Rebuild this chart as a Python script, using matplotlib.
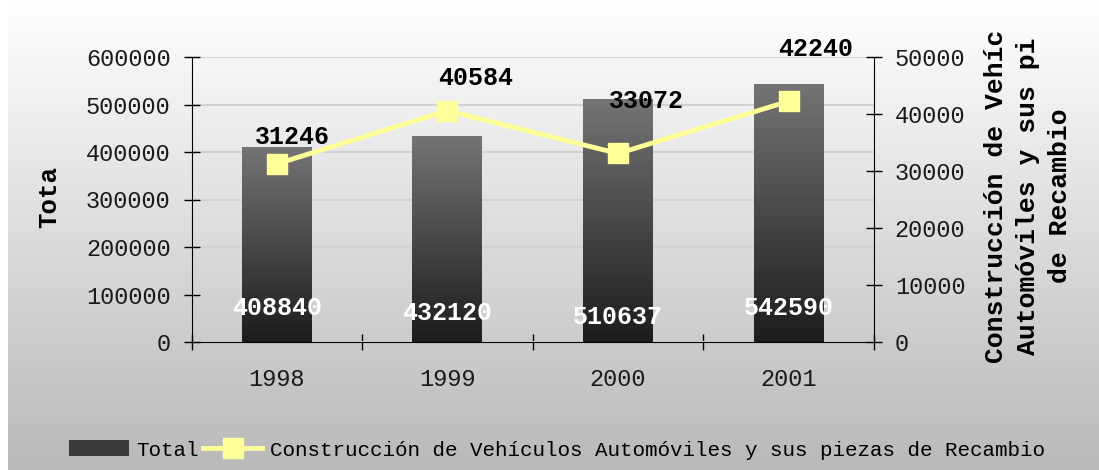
import numpy as np
import matplotlib
matplotlib.use("Agg")
import matplotlib.pyplot as plt
from matplotlib.colors import LinearSegmentedColormap
from matplotlib.patches import Patch
from matplotlib.lines import Line2D

# datos
years = ["1998", "1999", "2000", "2001"]
total = [408840, 432120, 510637, 542590]
construccion = [31246, 40584, 33072, 42240]
label_total = "Total"
label_constr = "Construcción de Vehículos Automóviles y sus piezas de Recambio"

plt.rcParams['font.family'] = ['Liberation Mono', 'DejaVu Sans Mono']

W, H = 1099, 470
fig = plt.figure(figsize=(W / 100, H / 100), dpi=100)

# fondo con degradado (blanco arriba, gris abajo)
bg = fig.add_axes([8 / W, 0, 1 - 8 / W, 1], zorder=-5)
bg_cmap = LinearSegmentedColormap.from_list("bg", ["#ffffff", "#b9b9b9"])
bg.imshow(np.linspace(0, 1, 256).reshape(-1, 1), aspect='auto', cmap=bg_cmap,
          extent=[0, 1, 0, 1])
bg.axis('off')

ax = fig.add_axes([191.5 / W, (H - 342) / H, (874 - 191.5) / W, (342 - 57) / H])
ax.patch.set_alpha(0)

x = np.arange(len(years))
bars = ax.bar(x, total, width=0.41, color='none', edgecolor='none', zorder=2)
bar_cmap = LinearSegmentedColormap.from_list("bar", ["#1c1c1c", "#747474"])
grad = np.linspace(0, 1, 256).reshape(-1, 1)
for b in bars:
    ax.imshow(grad, extent=[b.get_x(), b.get_x() + b.get_width(), 0, b.get_height()],
              origin='lower', aspect='auto', cmap=bar_cmap, zorder=2)

ax.set_xlim(-0.5, len(years) - 0.5)
ax.set_ylim(0, 600000)
ax.set_yticks(np.arange(0, 600001, 100000))
ax.yaxis.grid(True, color='#d2d2d2', lw=1.5)
ax.set_axisbelow(True)

ax.set_xticks(x)
ax.set_xticklabels(years)
ax.set_xticks(np.arange(-0.5, len(years), 1.0), minor=True)
ax.tick_params(axis='x', which='major', length=0, pad=19, labelsize=17, labelcolor='#1a1a1a')
ax.tick_params(axis='x', which='minor', direction='inout', length=12, width=1)
ax.tick_params(axis='y', direction='inout', length=12, width=1, pad=9, labelsize=17,
               labelcolor='#1a1a1a')
for s in ['top', 'right']:
    ax.spines[s].set_visible(False)

# etiquetas blancas de las barras
bar_offsets = [34, 29, 25, 34]
for b, v, off in zip(bars, total, bar_offsets):
    ax.annotate(str(v), (b.get_x() + b.get_width() / 2, 0), xytext=(0, off),
                textcoords='offset pixels', ha='center', va='center',
                color='white', fontsize=18, fontweight='bold', zorder=4)

ax2 = ax.twinx()
ax2.plot(x, construccion, color='#ffff99', lw=3.5, marker='s', ms=14,
         mec='#ffff99', zorder=3)
ax2.set_ylim(0, 50000)
ax2.set_yticks(np.arange(0, 50001, 10000))
ax2.tick_params(axis='y', direction='inout', length=12, width=1, pad=9, labelsize=17,
                labelcolor='#1a1a1a')
ax2.spines['top'].set_visible(False)
ax2.spines['left'].set_visible(False)
ax2.spines['bottom'].set_visible(False)

line_offsets = [(16, 27), (28, 33), (28, 52), (27, 52)]
for xi, v, (dx, dy) in zip(x, construccion, line_offsets):
    ax2.annotate(str(v), (xi, v), xytext=(dx, dy), textcoords='offset pixels',
                 ha='center', va='center', color='black', fontsize=18,
                 fontweight='bold')

# titulos de ejes
fig.text(49 / W, 1 - 197 / H, "Tota", rotation=90, ha='center', va='center',
         fontsize=18.5, fontweight='bold')
fig.text(1028 / W, 1 - 196 / H,
         "Construcción de Vehíc\nAutomóviles y sus pi\nde Recambio",
         rotation=90, ha='center', va='center', multialignment='center',
         fontsize=19, fontweight='bold', linespacing=1.42)

handles = [Patch(facecolor='#3a3a3a', edgecolor='none'),
           Line2D([], [], color='#ffff99', lw=3.5, marker='s', ms=14, mec='#ffff99')]
fig.legend(handles, [label_total, label_constr], loc='center',
           bbox_to_anchor=(557 / W, 1 - 450 / H), ncol=2, frameon=False,
           fontsize=15, handlelength=2.85, handleheight=0.8,
           handletextpad=0.35, columnspacing=0.2)

fig.savefig("out.png", dpi=100)
